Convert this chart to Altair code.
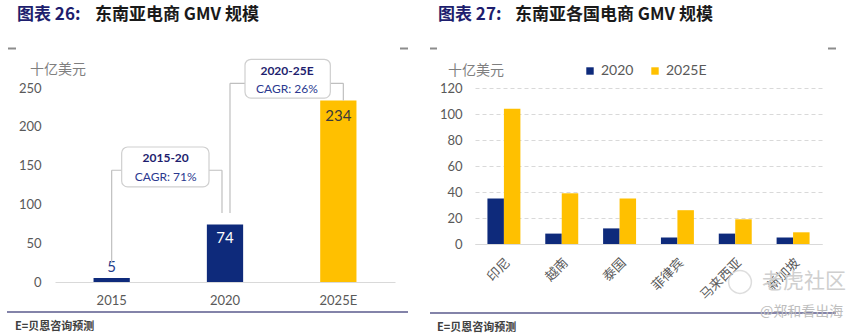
import altair as alt
import pandas as pd

# ---------------- data ----------------
years = ["2015", "2020", "2025E"]
gmv = [5, 74, 234]
bar_colors = ["#0E2A7B", "#0E2A7B", "#FFC000"]
left_ticks = [0, 50, 100, 150, 200, 250]

countries = ["印尼", "越南", "泰国", "菲律宾", "马来西亚", "新加坡"]
series = ["2020", "2025E"]
gmv_2020 = [35, 8, 12, 5, 8, 5]
gmv_2025e = [104, 39, 35, 26, 19, 9]
right_ticks = [0, 20, 40, 60, 80, 100, 120]

cagr_periods = ["2015-20", "2020-25E"]
cagr_texts = ["CAGR: 71%", "CAGR: 26%"]

title_left = ["图表 26:", "东南亚电商 GMV 规模"]
title_right = ["图表 27:", "东南亚各国电商 GMV 规模"]
unit_text = "十亿美元"
source_text = "E=贝恩咨询预测"
watermark = ["老虎社区", "@郑和看出海"]

NAVY = "#0E2A7B"
YELLOW = "#FFC000"
TITLE_NAVY = "#1E1E6E"
GRAY = "#595959"
BRK = "#BFBFBF"
LINE = "#5A5A8C"
FONT = "Lato"
CJK = "Noto Sans CJK SC"


def one(**cols):
    return pd.DataFrame({k: [v] for k, v in cols.items()})


def txt(s, x, y, **kw):
    kw.setdefault("align", "left")
    kw.setdefault("baseline", "middle")
    return alt.Chart(one(t=s)).mark_text(**kw).encode(
        x=alt.value(x), y=alt.value(y), text="t:N")


def prule(x1, x2, y1, y2, **kw):
    return alt.Chart(one(a=0)).mark_rule(**kw).encode(
        x=alt.value(x1), x2=alt.value(x2), y=alt.value(y1), y2=alt.value(y2))


# ---------------- left panel ----------------
xs_left = alt.Scale(domain=years, paddingInner=0.68, paddingOuter=0.34)
ys_left = alt.Scale(domain=[0, 250])
ax_x_left = alt.Axis(labelAngle=0, ticks=False, domainColor="#D9D9D9",
                     domainWidth=1, labelPadding=12, labelFont=FONT,
                     labelFontSize=13, labelColor=GRAY, title=None)
ax_y_left = alt.Axis(values=left_ticks, grid=False, domain=False, ticks=False,
                     labelPadding=14, labelFont=FONT, labelFontSize=13,
                     labelColor=GRAY, title=None)


def LX(field):
    return alt.X(field, scale=xs_left, axis=ax_x_left, title=None)


def LY(field):
    return alt.Y(field, scale=ys_left, axis=ax_y_left, title=None)


left_df = pd.DataFrame({"cat": years, "v": gmv, "col": bar_colors})

bars_left = alt.Chart(left_df).mark_bar().encode(
    x=LX("cat:N"), y=LY("v:Q"), color=alt.Color("col:N", scale=None))


def val_label(cat, dy, color):
    return alt.Chart(left_df).transform_filter(alt.datum.cat == cat).mark_text(
        font=FONT, fontSize=15, color=color, dy=dy, baseline="middle").encode(
        x=LX("cat:N"), y=LY("v:Q"), text="v:Q")


labels_left = [val_label("2015", -11, "#1F3A8A"),
               val_label("2020", 13, "white"),
               val_label("2025E", 16, "#3A3A3A")]


def vseg(cat, y1, y2, off):
    return alt.Chart(one(cat=cat, y1=y1, y2=y2)).mark_rule(
        color=BRK, strokeWidth=1.2, xOffset=off, x2Offset=off).encode(
        x=LX("cat:N"), y=LY("y1:Q"), y2="y2:Q")


def hseg(c1, c2, lvl, off1, off2):
    return alt.Chart(one(c1=c1, c2=c2, lvl=lvl)).mark_rule(
        color=BRK, strokeWidth=1.2, xOffset=off1, x2Offset=off2).encode(
        x=LX("c1:N"), x2="c2:N", y=LY("lvl:Q"))


def box(c1, c2, top, bottom, off1, off2):
    return alt.Chart(one(c1=c1, c2=c2, top=top, bottom=bottom)).mark_rect(
        fill="white", stroke="#CFCFCF", strokeWidth=1.2, cornerRadius=6,
        xOffset=off1, x2Offset=off2).encode(
        x=LX("c1:N"), x2="c2:N", y=LY("top:Q"), y2="bottom:Q")


def box_text(cat, lvl, s, off, bold, color):
    return alt.Chart(one(cat=cat, lvl=lvl, t=s)).mark_text(
        font=FONT, fontSize=12, fontWeight="bold" if bold else "normal",
        color=color, xOffset=off, baseline="middle").encode(
        x=LX("cat:N"), y=LY("lvl:Q"), text="t:N")


brackets = [
    vseg("2015", 25, 144, 0), vseg("2020", 89, 144, -3), hseg("2015", "2020", 144, 0, -3),
    vseg("2020", 89, 256, 5), vseg("2025E", 234, 256, 5), hseg("2020", "2025E", 256, 5, 5),
    box("2015", "2020", 174, 122.5, 10, -16),
    box("2020", "2025E", 287, 237, 20, -8),
    box_text("2015", 160, cagr_periods[0], 54, True, TITLE_NAVY),
    box_text("2015", 135.5, cagr_texts[0], 54, False, "#2B3990"),
    box_text("2020", 272, cagr_periods[1], 62, True, TITLE_NAVY),
    box_text("2020", 249, cagr_texts[1], 62, False, "#2B3990"),
]

decor_left = [
    prule(-55, 810, -88, 245, strokeOpacity=0),
    txt(title_left[0], -38, -73, font=CJK, fontSize=17, fontWeight="bold", color=TITLE_NAVY),
    txt(title_left[1], 40, -73, font=CJK, fontSize=17, fontWeight="bold", color="#1A1A1A"),
    txt(unit_text, -25, -18, font=CJK, fontSize=14, color="#7F7F7F"),
    prule(-47, -39, -39.5, -39.5, color="#8C8C8C", strokeWidth=2),
    prule(345, 353, -39.5, -39.5, color="#8C8C8C", strokeWidth=2),
    prule(-48, 353, 224, 224, color=LINE, strokeWidth=1.5),
    txt(source_text, -40, 239, font=CJK, fontSize=11, fontWeight="bold", color="#404040"),
]

left = alt.layer(bars_left, *labels_left, *brackets, *decor_left).properties(
    width=340, height=194)

# ---------------- right panel ----------------
rows = []
for c, a, b in zip(countries, gmv_2020, gmv_2025e):
    rows.append({"country": c, "series": series[0], "v": a})
    rows.append({"country": c, "series": series[1], "v": b})
right_df = pd.DataFrame(rows)

bars_right = alt.Chart(right_df).mark_bar().encode(
    x=alt.X("country:N", sort=countries, title=None,
            scale=alt.Scale(paddingInner=0.43, paddingOuter=0.215),
            axis=alt.Axis(labelAngle=-45, ticks=False, domainColor="#D9D9D9",
                          domainWidth=1, labelPadding=12, labelFont=CJK,
                          labelFontSize=13, labelColor=GRAY)),
    xOffset=alt.XOffset("series:N", sort=series, scale=alt.Scale(paddingInner=0)),
    y=alt.Y("v:Q", scale=alt.Scale(domain=[0, 120]), title=None,
            axis=alt.Axis(values=right_ticks, grid=True, gridColor="#D9D9D9",
                          gridDash=[4, 3], gridWidth=1, domain=False, ticks=False,
                          labelPadding=13, labelFont=FONT, labelFontSize=13,
                          labelColor=GRAY)),
    color=alt.Color("series:N", sort=series, title=None,
                    scale=alt.Scale(domain=series, range=[NAVY, YELLOW]),
                    legend=alt.Legend(orient="none", direction="horizontal",
                                      legendX=528, legendY=-24, symbolType="square",
                                      symbolSize=55, symbolStrokeWidth=0,
                                      labelFont=FONT, labelFontSize=14,
                                      labelColor=GRAY, columnPadding=14,
                                      labelOffset=4)),
)

decor_right = [
    txt(title_right[0], -37, -73, font=CJK, fontSize=17, fontWeight="bold", color=TITLE_NAVY),
    txt(title_right[1], 40, -73, font=CJK, fontSize=17, fontWeight="bold", color="#1A1A1A"),
    txt(unit_text, -27, -17, font=CJK, fontSize=14, color="#7F7F7F"),
    prule(-45, -38, -39.5, -39.5, color="#8C8C8C", strokeWidth=2),
    prule(353, 361, -39.5, -39.5, color="#8C8C8C", strokeWidth=2),
    prule(-45, 361, 225, 225, color=LINE, strokeWidth=1.5),
    txt(source_text, -38, 240, font=CJK, fontSize=11, fontWeight="bold", color="#404040"),
    alt.Chart(one(a=0)).mark_point(size=520, filled=False, color="#CFCFCF",
                                   strokeWidth=1.5).encode(x=alt.value(265), y=alt.value(194)),
    txt(watermark[0], 287, 194, font=CJK, fontSize=21, color="#CFCFCF"),
    txt(watermark[1], 285, 224, font=CJK, fontSize=14, color="#BDBDBD"),
]

right = alt.layer(bars_right, *decor_right).properties(width=347, height=156)

chart = alt.hconcat(left, right, spacing=80, bounds="flush").properties(
    padding=0, background="white"
).configure_view(stroke=None)

chart.save("out.html", embed_options={"renderer": "svg", "actions": False})
